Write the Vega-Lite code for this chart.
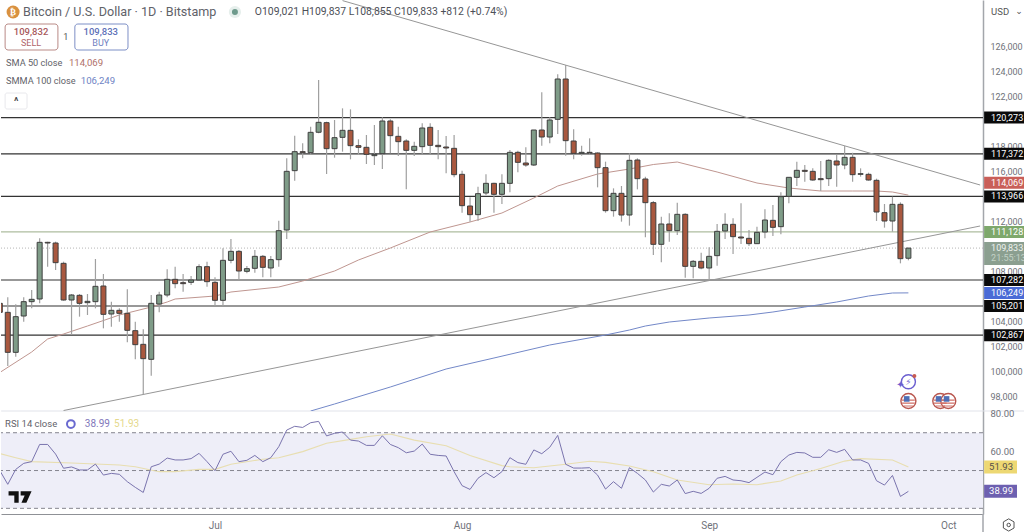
{"$schema":"https://vega.github.io/schema/vega-lite/v6.json","padding":0,"spacing":0,"bounds":"flush","background":"#ffffff","config":{"view":{"stroke":null},"font":"Roboto","text":{"font":"Roboto"},"concat":{"spacing":0}},
"datasets":{
"levels":[{"price":120273},{"price":117372},{"price":113966},{"price":107282},{"price":105201},{"price":102867}],
"tags":[{"label":"120,273","price":120273,"kind":"level"},{"label":"117,372","price":117372,"kind":"level"},{"label":"114,069","price":115064,"kind":"sma"},{"label":"113,966","price":113966,"kind":"level"},{"label":"111,128","price":111128,"kind":"support"},{"label":"107,282","price":107282,"kind":"level"},{"label":"106,249","price":106249,"kind":"smma"},{"label":"105,201","price":105201,"kind":"level"},{"label":"102,867","price":102867,"kind":"level"}],
"trend":[{"d":"2025-07-17","v":129632,"name":"upper"},{"d":"2025-10-05","v":114880,"name":"upper"},{"d":"2025-06-12","v":96840,"name":"lower"},{"d":"2025-10-05","v":111600,"name":"lower"}],
"sma":[{"d":"2025-06-04","v":99880},{"d":"2025-06-08","v":101520},{"d":"2025-06-10","v":102560},{"d":"2025-06-12","v":102960},{"d":"2025-06-15","v":103600},{"d":"2025-06-19","v":104480},{"d":"2025-06-23","v":105120},{"d":"2025-06-25","v":105520},{"d":"2025-06-26","v":105760},{"d":"2025-07-01","v":106000},{"d":"2025-07-03","v":106320},{"d":"2025-07-09","v":106720},{"d":"2025-07-12","v":107200},{"d":"2025-07-16","v":108000},{"d":"2025-07-19","v":108880},{"d":"2025-07-23","v":109840},{"d":"2025-07-28","v":111120},{"d":"2025-08-02","v":111920},{"d":"2025-08-06","v":112640},{"d":"2025-08-10","v":113840},{"d":"2025-08-13","v":114800},{"d":"2025-08-18","v":115760},{"d":"2025-08-22","v":116160},{"d":"2025-08-25","v":116520},{"d":"2025-08-28","v":116720},{"d":"2025-09-02","v":115920},{"d":"2025-09-07","v":115040},{"d":"2025-09-11","v":114640},{"d":"2025-09-15","v":114400},{"d":"2025-09-19","v":114400},{"d":"2025-09-22","v":114400},{"d":"2025-09-24","v":114320},{"d":"2025-09-26","v":114069}],
"smma":[{"d":"2025-07-13","v":96800},{"d":"2025-07-16","v":97360},{"d":"2025-07-23","v":98720},{"d":"2025-07-30","v":100160},{"d":"2025-08-05","v":101040},{"d":"2025-08-12","v":102080},{"d":"2025-08-19","v":102880},{"d":"2025-08-22","v":103280},{"d":"2025-08-24","v":103600},{"d":"2025-08-27","v":103920},{"d":"2025-09-01","v":104240},{"d":"2025-09-06","v":104480},{"d":"2025-09-09","v":104720},{"d":"2025-09-13","v":105120},{"d":"2025-09-17","v":105520},{"d":"2025-09-21","v":106000},{"d":"2025-09-24","v":106240},{"d":"2025-09-26","v":106249}],
"events":[{"d":"2025-09-26"},{"d":"2025-09-30"},{"d":"2025-10-01"}],
"candles":[
{"d":"2025-06-04","o":105413,"h":105947,"l":104213,"c":104693},
{"d":"2025-06-05","o":104693,"h":105893,"l":100400,"c":101493},
{"d":"2025-06-06","o":101493,"h":105333,"l":101147,"c":104347},
{"d":"2025-06-07","o":104400,"h":105893,"l":103947,"c":105547},
{"d":"2025-06-08","o":105547,"h":106480,"l":105013,"c":105733},
{"d":"2025-06-09","o":105760,"h":110613,"l":105413,"c":110293},
{"d":"2025-06-10","o":110293,"h":110347,"l":108347,"c":110240},
{"d":"2025-06-11","o":110240,"h":110347,"l":108080,"c":108667},
{"d":"2025-06-12","o":108613,"h":108747,"l":105627,"c":105680},
{"d":"2025-06-13","o":105680,"h":106160,"l":102880,"c":106080},
{"d":"2025-06-14","o":106053,"h":106160,"l":104347,"c":105413},
{"d":"2025-06-15","o":105467,"h":106160,"l":104480,"c":105573},
{"d":"2025-06-16","o":105547,"h":108960,"l":105013,"c":106773},
{"d":"2025-06-17","o":106800,"h":107760,"l":103413,"c":104533},
{"d":"2025-06-18","o":104560,"h":105547,"l":103547,"c":104853},
{"d":"2025-06-19","o":104853,"h":105013,"l":103947,"c":104613},
{"d":"2025-06-20","o":104613,"h":106533,"l":102293,"c":103253},
{"d":"2025-06-21","o":103227,"h":103947,"l":100933,"c":102107},
{"d":"2025-06-22","o":102133,"h":103333,"l":98160,"c":100987},
{"d":"2025-06-23","o":100933,"h":106080,"l":99627,"c":105413},
{"d":"2025-06-24","o":105360,"h":106347,"l":104693,"c":106080},
{"d":"2025-06-25","o":106080,"h":108133,"l":105893,"c":107333},
{"d":"2025-06-26","o":107333,"h":108347,"l":106613,"c":106987},
{"d":"2025-06-27","o":107067,"h":107760,"l":106347,"c":106987},
{"d":"2025-06-28","o":107093,"h":107600,"l":106880,"c":107280},
{"d":"2025-06-29","o":107280,"h":108533,"l":107227,"c":108347},
{"d":"2025-06-30","o":108347,"h":108747,"l":106747,"c":107147},
{"d":"2025-07-01","o":107093,"h":107493,"l":105200,"c":105653},
{"d":"2025-07-02","o":105653,"h":109813,"l":105200,"c":108853},
{"d":"2025-07-03","o":108853,"h":110560,"l":108613,"c":109573},
{"d":"2025-07-04","o":109573,"h":109680,"l":107280,"c":108000},
{"d":"2025-07-05","o":107973,"h":108400,"l":107813,"c":108187},
{"d":"2025-07-06","o":108213,"h":109680,"l":107867,"c":109173},
{"d":"2025-07-07","o":109173,"h":109280,"l":107493,"c":108293},
{"d":"2025-07-08","o":108240,"h":109200,"l":107493,"c":108907},
{"d":"2025-07-09","o":108907,"h":112027,"l":108347,"c":111227},
{"d":"2025-07-10","o":111280,"h":117013,"l":110560,"c":115973},
{"d":"2025-07-11","o":116027,"h":118827,"l":115227,"c":117547},
{"d":"2025-07-12","o":117547,"h":118213,"l":117013,"c":117467},
{"d":"2025-07-13","o":117467,"h":119547,"l":117280,"c":119093},
{"d":"2025-07-14","o":119100,"h":123280,"l":119013,"c":119893},
{"d":"2025-07-15","o":119867,"h":119947,"l":115760,"c":117787},
{"d":"2025-07-16","o":117787,"h":120080,"l":117067,"c":118667},
{"d":"2025-07-17","o":118693,"h":121013,"l":117547,"c":119253},
{"d":"2025-07-18","o":119253,"h":120933,"l":116933,"c":118027},
{"d":"2025-07-19","o":118027,"h":118533,"l":117280,"c":117893},
{"d":"2025-07-20","o":117893,"h":118880,"l":116560,"c":117333},
{"d":"2025-07-21","o":117227,"h":119680,"l":116480,"c":117333},
{"d":"2025-07-22","o":117387,"h":120293,"l":116160,"c":120000},
{"d":"2025-07-23","o":120000,"h":120133,"l":117413,"c":118827},
{"d":"2025-07-24","o":118773,"h":119547,"l":117200,"c":118347},
{"d":"2025-07-25","o":118400,"h":118533,"l":114533,"c":117653},
{"d":"2025-07-26","o":117653,"h":118347,"l":117200,"c":117973},
{"d":"2025-07-27","o":117947,"h":119813,"l":117360,"c":119440},
{"d":"2025-07-28","o":119493,"h":119813,"l":117360,"c":118053},
{"d":"2025-07-29","o":118053,"h":119280,"l":116933,"c":117947},
{"d":"2025-07-30","o":117920,"h":118800,"l":115813,"c":117840},
{"d":"2025-07-31","o":117813,"h":118880,"l":115493,"c":115707},
{"d":"2025-08-01","o":115733,"h":116027,"l":112667,"c":113227},
{"d":"2025-08-02","o":113200,"h":113893,"l":111947,"c":112507},
{"d":"2025-08-03","o":112507,"h":114747,"l":112000,"c":114187},
{"d":"2025-08-04","o":114240,"h":115733,"l":114080,"c":115013},
{"d":"2025-08-05","o":115013,"h":115067,"l":112667,"c":114133},
{"d":"2025-08-06","o":114133,"h":115733,"l":113360,"c":115013},
{"d":"2025-08-07","o":115013,"h":117680,"l":114293,"c":117493},
{"d":"2025-08-08","o":117493,"h":117627,"l":115893,"c":116693},
{"d":"2025-08-09","o":116640,"h":117893,"l":116347,"c":116480},
{"d":"2025-08-10","o":116480,"h":119280,"l":116400,"c":119280},
{"d":"2025-08-11","o":119280,"h":122293,"l":118027,"c":118720},
{"d":"2025-08-12","o":118720,"h":120293,"l":118213,"c":120080},
{"d":"2025-08-13","o":120133,"h":123733,"l":118960,"c":123360},
{"d":"2025-08-14","o":123360,"h":124480,"l":117227,"c":118427},
{"d":"2025-08-15","o":118400,"h":119333,"l":116933,"c":117413},
{"d":"2025-08-16","o":117413,"h":118027,"l":117227,"c":117493},
{"d":"2025-08-17","o":117493,"h":118613,"l":117280,"c":117450},
{"d":"2025-08-18","o":117440,"h":117493,"l":114693,"c":116267},
{"d":"2025-08-19","o":116267,"h":116747,"l":112667,"c":112827},
{"d":"2025-08-20","o":112827,"h":114613,"l":112347,"c":114213},
{"d":"2025-08-21","o":114213,"h":114800,"l":111947,"c":112480},
{"d":"2025-08-22","o":112480,"h":117413,"l":111627,"c":116853},
{"d":"2025-08-23","o":116880,"h":117013,"l":114533,"c":115387},
{"d":"2025-08-24","o":115360,"h":115547,"l":110693,"c":113467},
{"d":"2025-08-25","o":113467,"h":113600,"l":109280,"c":110133},
{"d":"2025-08-26","o":110133,"h":112347,"l":108693,"c":111760},
{"d":"2025-08-27","o":111760,"h":112613,"l":110347,"c":111227},
{"d":"2025-08-28","o":111227,"h":113467,"l":110880,"c":112533},
{"d":"2025-08-29","o":112533,"h":112613,"l":107467,"c":108373},
{"d":"2025-08-30","o":108373,"h":108880,"l":107413,"c":108773},
{"d":"2025-08-31","o":108773,"h":109467,"l":108133,"c":108240},
{"d":"2025-09-01","o":108240,"h":109893,"l":107280,"c":109173},
{"d":"2025-09-02","o":109227,"h":111760,"l":108427,"c":111173},
{"d":"2025-09-03","o":111200,"h":112613,"l":110560,"c":111733},
{"d":"2025-09-04","o":111733,"h":112213,"l":109360,"c":110747},
{"d":"2025-09-05","o":110720,"h":113413,"l":110160,"c":110640},
{"d":"2025-09-06","o":110613,"h":111280,"l":110000,"c":110187},
{"d":"2025-09-07","o":110187,"h":111547,"l":110160,"c":111093},
{"d":"2025-09-08","o":111120,"h":112933,"l":110613,"c":112080},
{"d":"2025-09-09","o":112053,"h":113280,"l":110800,"c":111493},
{"d":"2025-09-10","o":111547,"h":114293,"l":110933,"c":113947},
{"d":"2025-09-11","o":113973,"h":115493,"l":113413,"c":115493},
{"d":"2025-09-12","o":115493,"h":116747,"l":114800,"c":116053},
{"d":"2025-09-13","o":116053,"h":116480,"l":115147,"c":115973},
{"d":"2025-09-14","o":115973,"h":116213,"l":115227,"c":115280},
{"d":"2025-09-15","o":115387,"h":116800,"l":114400,"c":115307},
{"d":"2025-09-16","o":115387,"h":116933,"l":114800,"c":116853},
{"d":"2025-09-17","o":116800,"h":117280,"l":114747,"c":116480},
{"d":"2025-09-18","o":116480,"h":118000,"l":116133,"c":117093},
{"d":"2025-09-19","o":117093,"h":117467,"l":115147,"c":115707},
{"d":"2025-09-20","o":115733,"h":116213,"l":115547,"c":115787},
{"d":"2025-09-21","o":115733,"h":115867,"l":115227,"c":115280},
{"d":"2025-09-22","o":115253,"h":115387,"l":112000,"c":112720},
{"d":"2025-09-23","o":112667,"h":113360,"l":111467,"c":112000},
{"d":"2025-09-24","o":112000,"h":113947,"l":111147,"c":113333},
{"d":"2025-09-25","o":113333,"h":113493,"l":108613,"c":108987},
{"d":"2025-09-26","o":109021,"h":109837,"l":108855,"c":109833}],
"rsi":[{"d":"2025-06-04","v":50},{"d":"2025-06-05","v":42.7},{"d":"2025-06-06","v":50.6},{"d":"2025-06-07","v":53.8},{"d":"2025-06-08","v":54.7},{"d":"2025-06-09","v":63.8},{"d":"2025-06-10","v":63.8},{"d":"2025-06-11","v":58.7},{"d":"2025-06-12","v":51.2},{"d":"2025-06-13","v":51.9},{"d":"2025-06-14","v":50.3},{"d":"2025-06-15","v":50.3},{"d":"2025-06-16","v":53.4},{"d":"2025-06-17","v":47.6},{"d":"2025-06-18","v":48.5},{"d":"2025-06-19","v":48},{"d":"2025-06-20","v":44.1},{"d":"2025-06-21","v":41.1},{"d":"2025-06-22","v":38.4},{"d":"2025-06-23","v":52},{"d":"2025-06-24","v":53.4},{"d":"2025-06-25","v":56.6},{"d":"2025-06-26","v":55.6},{"d":"2025-06-27","v":55.6},{"d":"2025-06-28","v":56.3},{"d":"2025-06-29","v":59.1},{"d":"2025-06-30","v":54.7},{"d":"2025-07-01","v":49.9},{"d":"2025-07-02","v":58.6},{"d":"2025-07-03","v":60.2},{"d":"2025-07-04","v":54.7},{"d":"2025-07-05","v":55.4},{"d":"2025-07-06","v":58},{"d":"2025-07-07","v":54.7},{"d":"2025-07-08","v":56.8},{"d":"2025-07-09","v":62.6},{"d":"2025-07-10","v":71.4},{"d":"2025-07-11","v":73.4},{"d":"2025-07-12","v":72.8},{"d":"2025-07-13","v":75.3},{"d":"2025-07-14","v":76},{"d":"2025-07-15","v":68.3},{"d":"2025-07-16","v":69.7},{"d":"2025-07-17","v":70.4},{"d":"2025-07-18","v":66.1},{"d":"2025-07-19","v":65.6},{"d":"2025-07-20","v":63.3},{"d":"2025-07-21","v":63.3},{"d":"2025-07-22","v":68.4},{"d":"2025-07-23","v":63.8},{"d":"2025-07-24","v":62.1},{"d":"2025-07-25","v":59.4},{"d":"2025-07-26","v":60.3},{"d":"2025-07-27","v":64},{"d":"2025-07-28","v":58.6},{"d":"2025-07-29","v":58},{"d":"2025-07-30","v":57.7},{"d":"2025-07-31","v":49.4},{"d":"2025-08-01","v":42},{"d":"2025-08-02","v":40},{"d":"2025-08-03","v":45.9},{"d":"2025-08-04","v":48.9},{"d":"2025-08-05","v":46.2},{"d":"2025-08-06","v":49.4},{"d":"2025-08-07","v":56.8},{"d":"2025-08-08","v":54.2},{"d":"2025-08-09","v":53.3},{"d":"2025-08-10","v":60.9},{"d":"2025-08-11","v":58.9},{"d":"2025-08-12","v":62.3},{"d":"2025-08-13","v":68.6},{"d":"2025-08-14","v":53.3},{"d":"2025-08-15","v":51.3},{"d":"2025-08-16","v":51.3},{"d":"2025-08-17","v":51.5},{"d":"2025-08-18","v":47.6},{"d":"2025-08-19","v":40.2},{"d":"2025-08-20","v":44.1},{"d":"2025-08-21","v":40.6},{"d":"2025-08-22","v":51.5},{"d":"2025-08-23","v":48.5},{"d":"2025-08-24","v":45},{"d":"2025-08-25","v":38.6},{"d":"2025-08-26","v":42.7},{"d":"2025-08-27","v":41.8},{"d":"2025-08-28","v":45},{"d":"2025-08-29","v":37.8},{"d":"2025-08-30","v":39},{"d":"2025-08-31","v":37.9},{"d":"2025-09-01","v":40.6},{"d":"2025-09-02","v":45.9},{"d":"2025-09-03","v":46.9},{"d":"2025-09-04","v":45},{"d":"2025-09-05","v":44.6},{"d":"2025-09-06","v":43.6},{"d":"2025-09-07","v":46.4},{"d":"2025-09-08","v":49.2},{"d":"2025-09-09","v":47.8},{"d":"2025-09-10","v":54.7},{"d":"2025-09-11","v":58.2},{"d":"2025-09-12","v":59.6},{"d":"2025-09-13","v":59.3},{"d":"2025-09-14","v":57},{"d":"2025-09-15","v":57},{"d":"2025-09-16","v":61},{"d":"2025-09-17","v":59.6},{"d":"2025-09-18","v":61.2},{"d":"2025-09-19","v":55.6},{"d":"2025-09-20","v":55.6},{"d":"2025-09-21","v":53.8},{"d":"2025-09-22","v":44.6},{"d":"2025-09-23","v":42.3},{"d":"2025-09-24","v":47.4},{"d":"2025-09-25","v":36.3},{"d":"2025-09-26","v":38.99}],
"rsima":[{"d":"2025-06-04","v":59},{"d":"2025-06-06","v":56.8},{"d":"2025-06-08","v":54.7},{"d":"2025-06-13","v":54},{"d":"2025-06-19","v":52.9},{"d":"2025-06-21","v":52},{"d":"2025-06-24","v":49.4},{"d":"2025-06-26","v":49.4},{"d":"2025-06-29","v":50.6},{"d":"2025-07-01","v":50.6},{"d":"2025-07-03","v":53.3},{"d":"2025-07-07","v":56},{"d":"2025-07-09","v":56.8},{"d":"2025-07-12","v":60},{"d":"2025-07-15","v":64.4},{"d":"2025-07-18","v":66.5},{"d":"2025-07-20","v":67.9},{"d":"2025-07-23","v":69.3},{"d":"2025-07-26","v":66.1},{"d":"2025-07-30","v":63.1},{"d":"2025-08-02","v":57.9},{"d":"2025-08-06","v":52.6},{"d":"2025-08-07","v":52},{"d":"2025-08-10","v":51.5},{"d":"2025-08-14","v":53.3},{"d":"2025-08-17","v":54.9},{"d":"2025-08-19","v":54.3},{"d":"2025-08-22","v":52.4},{"d":"2025-08-25","v":49.4},{"d":"2025-08-28","v":45},{"d":"2025-09-01","v":42.5},{"d":"2025-09-04","v":42.9},{"d":"2025-09-07","v":42.5},{"d":"2025-09-10","v":44.5},{"d":"2025-09-12","v":47.6},{"d":"2025-09-15","v":51.1},{"d":"2025-09-18","v":55},{"d":"2025-09-20","v":56.3},{"d":"2025-09-24","v":55.6},{"d":"2025-09-26","v":51.93}],
"rsitags":[{"label":"51.93","v":51.93,"kind":"ma"},{"label":"38.99","v":38.99,"kind":"rsi"}]
},
"vconcat":[
{"width":982,"height":411,"data":{"values":[{}]},"layer":[
{"data":{"name":"levels"},"mark":{"type":"rule","color":"#333333","strokeWidth":1.2},"encoding":{"y":{"field":"price","type":"quantitative","scale":{"domain":[96800,129680],"nice":false,"zero":false},"axis":{"orient":"right","values":[126000,124000,122000,118000,116000,112000,108000,104000,102000,100000,98000],"labelExpr":"format(datum.value,',')","labelPadding":7,"ticks":false,"grid":false,"domainColor":"#a3a6ab","domainWidth":1.5,"labelColor":"#6f727a","labelFontSize":9,"labelFont":"Roboto","title":null}}}},
{"mark":{"type":"rule","color":"#aebd9f","strokeWidth":1.3},"encoding":{"y":{"datum":111128,"type":"quantitative"}}},
{"mark":{"type":"rule","color":"#b5b5b5","strokeWidth":1,"strokeDash":[1,2]},"encoding":{"y":{"datum":109833,"type":"quantitative"}}},
{"mark":{"type":"rule","color":"#e1e3ea","strokeWidth":1},"encoding":{"y":{"datum":96800,"type":"quantitative"},"x":{"datum":{"year":2025,"month":"june","date":4,"hours":4,"utc":true},"type":"temporal","scale":{"type":"utc","padding":0,"domain":[{"year":2025,"month":"june","date":4,"hours":3,"minutes":36,"utc":true},{"year":2025,"month":"october","date":5,"hours":8,"minutes":38,"utc":true}],"nice":false},"axis":null},"x2":{"datum":{"year":2025,"month":"june","date":4,"hours":3087,"utc":true}}}},
{"data":{"name":"trend"},"mark":{"type":"line","color":"#969696","strokeWidth":1,"clip":true},"encoding":{"x":{"field":"d","type":"temporal"},"y":{"field":"v","type":"quantitative"},"detail":{"field":"name"}}},
{"data":{"name":"sma"},"mark":{"type":"line","color":"#bf9690","strokeWidth":1,"clip":true},"encoding":{"x":{"field":"d","type":"temporal"},"y":{"field":"v","type":"quantitative"}}},
{"data":{"name":"smma"},"mark":{"type":"line","color":"#7388c8","strokeWidth":1,"clip":true},"encoding":{"x":{"field":"d","type":"temporal"},"y":{"field":"v","type":"quantitative"}}},
{"data":{"name":"candles"},"mark":{"type":"rule","color":"#a0a0a0","strokeWidth":1.2,"clip":true},"encoding":{"x":{"field":"d","type":"temporal"},"y":{"field":"l","type":"quantitative"},"y2":{"field":"h"}}},
{"data":{"name":"candles"},"mark":{"type":"bar","width":5,"stroke":"#3f3f3f","strokeWidth":1,"clip":true},"encoding":{"x":{"field":"d","type":"temporal"},"y":{"field":"o","type":"quantitative"},"y2":{"field":"c"},"fill":{"condition":{"test":"datum.c>=datum.o","value":"#7f9c88"},"value":"#a9583f"}}},
{"data":{"name":"tags"},"mark":{"type":"rect","height":12},"encoding":{"x":{"datum":{"year":2025,"month":"june","date":4,"hours":2964,"utc":true},"type":"temporal"},"x2":{"datum":{"year":2025,"month":"june","date":4,"hours":3087,"utc":true}},"y":{"field":"price","type":"quantitative"},"color":{"field":"kind","type":"nominal","legend":null,"scale":{"domain":["level","sma","support","smma"],"range":["#0a0a0a","#c95f59","#7ea86c","#4a6bd6"]}}}},
{"mark":{"type":"rect","height":23,"color":"#8b9f90"},"encoding":{"x":{"datum":{"year":2025,"month":"june","date":4,"hours":2964,"utc":true},"type":"temporal"},"x2":{"datum":{"year":2025,"month":"june","date":4,"hours":3087,"utc":true}},"y":{"datum":109392,"type":"quantitative"}}},
{"data":{"name":"tags"},"mark":{"type":"text","align":"left","fontSize":9,"color":"#ffffff"},"encoding":{"x":{"datum":{"year":2025,"month":"june","date":4,"hours":2985,"utc":true},"type":"temporal"},"y":{"field":"price","type":"quantitative"},"text":{"field":"label"}}},
{"mark":{"type":"text","align":"left","fontSize":9,"color":"#eef2ee","text":"109,833"},"encoding":{"x":{"datum":{"year":2025,"month":"june","date":4,"hours":2985,"utc":true},"type":"temporal"},"y":{"datum":109880,"type":"quantitative"}}},
{"mark":{"type":"text","align":"left","fontSize":9,"color":"#c3d2c6","text":"21:55:13"},"encoding":{"x":{"datum":{"year":2025,"month":"june","date":4,"hours":2985,"utc":true},"type":"temporal"},"y":{"datum":109040,"type":"quantitative"}}},
{"mark":{"type":"text","align":"left","fontSize":9.5,"color":"#555555","text":"USD"},"encoding":{"x":{"datum":{"year":2025,"month":"june","date":4,"hours":2985,"utc":true},"type":"temporal"},"y":{"datum":128720,"type":"quantitative"}}},
{"mark":{"type":"text","align":"center","fontSize":9,"color":"#555555","font":"DejaVu Sans","text":"⌄"},"encoding":{"x":{"datum":{"year":2025,"month":"june","date":4,"hours":3069,"utc":true},"type":"temporal"},"y":{"datum":128800,"type":"quantitative"}}},
{"mark":{"type":"point","filled":true,"size":169,"color":"#d9913f","opacity":1},"encoding":{"x":{"datum":{"year":2025,"month":"june","date":4,"hours":40,"utc":true},"type":"temporal"},"y":{"datum":128720,"type":"quantitative"}}},
{"mark":{"type":"text","align":"center","fontSize":9,"fontWeight":"bold","color":"#ffffff","text":"₿"},"encoding":{"x":{"datum":{"year":2025,"month":"june","date":4,"hours":40,"utc":true},"type":"temporal"},"y":{"datum":128720,"type":"quantitative"}}},
{"mark":{"type":"text","align":"left","fontSize":12.6,"color":"#5f6269","text":"Bitcoin / U.S. Dollar · 1D · Bitstamp"},"encoding":{"x":{"datum":{"year":2025,"month":"june","date":4,"hours":70,"utc":true},"type":"temporal"},"y":{"datum":128720,"type":"quantitative"}}},
{"mark":{"type":"point","filled":true,"size":150,"color":"#e6efec","opacity":1},"encoding":{"x":{"datum":{"year":2025,"month":"june","date":4,"hours":708,"utc":true},"type":"temporal"},"y":{"datum":128720,"type":"quantitative"}}},
{"mark":{"type":"point","filled":true,"size":36,"color":"#6e9a8c","opacity":1},"encoding":{"x":{"datum":{"year":2025,"month":"june","date":4,"hours":708,"utc":true},"type":"temporal"},"y":{"datum":128720,"type":"quantitative"}}},
{"mark":{"type":"text","align":"left","fontSize":10.4,"color":"#4d5058","text":"O109,021  H109,837  L108,855  C109,833  +812 (+0.74%)"},"encoding":{"x":{"datum":{"year":2025,"month":"june","date":4,"hours":768,"utc":true},"type":"temporal"},"y":{"datum":128720,"type":"quantitative"}}},
{"mark":{"type":"rect","fill":"#ffffff","stroke":"#b98a86","strokeWidth":1,"cornerRadius":3},"encoding":{"x":{"datum":{"year":2025,"month":"june","date":4,"hours":16,"utc":true},"type":"temporal"},"x2":{"datum":{"year":2025,"month":"june","date":4,"hours":175,"utc":true}},"y":{"datum":127760,"type":"quantitative"},"y2":{"datum":125680}}},
{"mark":{"type":"rect","fill":"#ffffff","stroke":"#7d8fc6","strokeWidth":1,"cornerRadius":3},"encoding":{"x":{"datum":{"year":2025,"month":"june","date":4,"hours":226,"utc":true},"type":"temporal"},"x2":{"datum":{"year":2025,"month":"june","date":4,"hours":386,"utc":true}},"y":{"datum":127760,"type":"quantitative"},"y2":{"datum":125680}}},
{"mark":{"type":"text","align":"center","fontSize":9.5,"fontWeight":500,"color":"#a8595c","text":"109,832"},"encoding":{"x":{"datum":{"year":2025,"month":"june","date":4,"hours":94,"utc":true},"type":"temporal"},"y":{"datum":127120,"type":"quantitative"}}},
{"mark":{"type":"text","align":"center","fontSize":9,"color":"#b0666a","text":"SELL"},"encoding":{"x":{"datum":{"year":2025,"month":"june","date":4,"hours":94,"utc":true},"type":"temporal"},"y":{"datum":126240,"type":"quantitative"}}},
{"mark":{"type":"text","align":"center","fontSize":9,"color":"#555555","text":"1"},"encoding":{"x":{"datum":{"year":2025,"month":"june","date":4,"hours":199,"utc":true},"type":"temporal"},"y":{"datum":126720,"type":"quantitative"}}},
{"mark":{"type":"text","align":"center","fontSize":9.5,"fontWeight":500,"color":"#5d70b8","text":"109,833"},"encoding":{"x":{"datum":{"year":2025,"month":"june","date":4,"hours":304,"utc":true},"type":"temporal"},"y":{"datum":127120,"type":"quantitative"}}},
{"mark":{"type":"text","align":"center","fontSize":9,"color":"#6f80c0","text":"BUY"},"encoding":{"x":{"datum":{"year":2025,"month":"june","date":4,"hours":304,"utc":true},"type":"temporal"},"y":{"datum":126240,"type":"quantitative"}}},
{"mark":{"type":"text","align":"left","fontSize":9.2,"color":"#5f6269","text":"SMA 50 close"},"encoding":{"x":{"datum":{"year":2025,"month":"june","date":4,"hours":19,"utc":true},"type":"temporal"},"y":{"datum":124640,"type":"quantitative"}}},
{"mark":{"type":"text","align":"left","fontSize":9.6,"color":"#b0706a","text":"114,069"},"encoding":{"x":{"datum":{"year":2025,"month":"june","date":4,"hours":208,"utc":true},"type":"temporal"},"y":{"datum":124640,"type":"quantitative"}}},
{"mark":{"type":"text","align":"left","fontSize":9.2,"color":"#5f6269","text":"SMMA 100 close"},"encoding":{"x":{"datum":{"year":2025,"month":"june","date":4,"hours":19,"utc":true},"type":"temporal"},"y":{"datum":123200,"type":"quantitative"}}},
{"mark":{"type":"text","align":"left","fontSize":9.6,"color":"#6f83c4","text":"106,249"},"encoding":{"x":{"datum":{"year":2025,"month":"june","date":4,"hours":244,"utc":true},"type":"temporal"},"y":{"datum":123200,"type":"quantitative"}}},
{"mark":{"type":"rect","fill":"#ffffff","stroke":"#e8e8ec","strokeWidth":1,"cornerRadius":2},"encoding":{"x":{"datum":{"year":2025,"month":"june","date":4,"hours":16,"utc":true},"type":"temporal"},"x2":{"datum":{"year":2025,"month":"june","date":4,"hours":82,"utc":true}},"y":{"datum":122240,"type":"quantitative"},"y2":{"datum":120960}}},
{"mark":{"type":"text","align":"center","fontSize":10,"fontWeight":"bold","color":"#444444","text":"^"},"encoding":{"x":{"datum":{"year":2025,"month":"june","date":4,"hours":49,"utc":true},"type":"temporal"},"y":{"datum":121500,"type":"quantitative"}}},
{"data":{"name":"events"},"mark":{"type":"point","filled":true,"size":225,"color":"#ffffff","stroke":"#b9564e","strokeWidth":1.4,"opacity":1},"encoding":{"x":{"field":"d","type":"temporal"},"y":{"datum":97600,"type":"quantitative"}}},
{"data":{"name":"events"},"mark":{"type":"point","filled":true,"size":225,"color":"#cf6f66","opacity":1,"shape":"M-.85 -.2H.85V-.05H-.85ZM-.85 .2H.85V.35H-.85ZM-.6 .6H.6V.72H-.6Z"},"encoding":{"x":{"field":"d","type":"temporal"},"y":{"datum":97600,"type":"quantitative"}}},
{"data":{"name":"events"},"mark":{"type":"point","filled":true,"size":225,"color":"#4f6fb5","opacity":1,"shape":"M-.6 -.65H.15V.1H-.6Z"},"encoding":{"x":{"field":"d","type":"temporal"},"y":{"datum":97600,"type":"quantitative"}}},
{"mark":{"type":"point","filled":false,"size":196,"color":"#6b5fd0","strokeWidth":1.4,"opacity":1},"encoding":{"x":{"datum":{"year":2025,"month":"september","date":26,"utc":true},"type":"temporal"},"y":{"datum":99140,"type":"quantitative"}}},
{"mark":{"type":"text","align":"center","fontSize":9,"color":"#6b5fd0","font":"DejaVu Sans","text":"⚡"},"encoding":{"x":{"datum":{"year":2025,"month":"september","date":26,"utc":true},"type":"temporal"},"y":{"datum":99140,"type":"quantitative"}}},
{"mark":{"type":"text","align":"center","fontSize":10,"color":"#6b5fd0","font":"DejaVu Sans","text":"✦"},"encoding":{"x":{"datum":{"year":2025,"month":"september","date":25,"utc":true},"type":"temporal"},"y":{"datum":98900,"type":"quantitative"}}},
{"mark":{"type":"point","filled":true,"size":16,"color":"#c85a50","opacity":1},"encoding":{"x":{"datum":{"year":2025,"month":"september","date":26,"hours":18,"utc":true},"type":"temporal"},"y":{"datum":99600,"type":"quantitative"}}}
]},
{"width":982,"height":103,"data":{"values":[{}]},"layer":[
{"mark":{"type":"rect","color":"#eeeef8"},"encoding":{"y":{"datum":70,"type":"quantitative","scale":{"domain":[27,81.5],"nice":false,"zero":false},"axis":{"orient":"right","values":[80,60],"labelExpr":"format(datum.value,'.2f')","labelPadding":7,"ticks":false,"grid":false,"domainColor":"#a3a6ab","domainWidth":1.5,"labelColor":"#6f727a","labelFontSize":9.5,"labelFont":"Roboto","title":null}},"y2":{"datum":30}}},
{"data":{"values":[{"v":70},{"v":50},{"v":30}]},"mark":{"type":"rule","color":"#85858f","strokeWidth":1,"strokeDash":[4,3]},"encoding":{"y":{"field":"v","type":"quantitative"}}},
{"data":{"name":"rsima"},"mark":{"type":"line","color":"#e8deb0","strokeWidth":1.1,"clip":true},"encoding":{"x":{"field":"d","type":"temporal","scale":{"type":"utc","domain":[{"year":2025,"month":"june","date":4,"hours":3,"minutes":36,"utc":true},{"year":2025,"month":"october","date":5,"hours":8,"minutes":38,"utc":true}],"nice":false},"axis":{"values":[{"year":2025,"month":"july","date":1,"utc":true},{"year":2025,"month":"august","date":1,"utc":true},{"year":2025,"month":"september","date":1,"utc":true},{"year":2025,"month":"october","date":1,"utc":true}],"labelExpr":"utcFormat(datum.value,'%b')","ticks":false,"grid":false,"labelPadding":6,"labelColor":"#6f727a","labelFontSize":10,"labelFont":"Roboto","domainColor":"#8f9196","domainWidth":1.2,"title":null}},"y":{"field":"v","type":"quantitative"}}},
{"data":{"name":"rsi"},"mark":{"type":"line","color":"#7a74ae","strokeWidth":1,"clip":true},"encoding":{"x":{"field":"d","type":"temporal"},"y":{"field":"v","type":"quantitative"}}},
{"mark":{"type":"rule","color":"#a3a6ab","strokeWidth":1.5},"encoding":{"x":{"datum":{"year":2025,"month":"october","date":5,"hours":8,"minutes":38,"utc":true},"type":"temporal"},"y":{"datum":27,"type":"quantitative"},"y2":{"datum":17.5}}},
{"data":{"name":"rsitags"},"mark":{"type":"rect","height":13},"encoding":{"x":{"datum":{"year":2025,"month":"june","date":4,"hours":2964,"utc":true},"type":"temporal"},"x2":{"datum":{"year":2025,"month":"june","date":4,"hours":3063,"utc":true}},"y":{"field":"v","type":"quantitative"},"color":{"field":"kind","type":"nominal","legend":null,"scale":{"domain":["ma","rsi"],"range":["#edd873","#6d60b0"]}}}},
{"data":{"name":"rsitags"},"mark":{"type":"text","align":"center","fontSize":9.5},"encoding":{"x":{"datum":{"year":2025,"month":"june","date":4,"hours":3015,"utc":true},"type":"temporal"},"y":{"field":"v","type":"quantitative"},"text":{"field":"label"},"fill":{"field":"kind","type":"nominal","legend":null,"scale":{"domain":["ma","rsi"],"range":["#55504a","#ffffff"]}}}},
{"mark":{"type":"text","align":"left","fontSize":9.5,"color":"#5f6269","text":"RSI 14 close"},"encoding":{"x":{"datum":{"year":2025,"month":"june","date":4,"hours":16,"utc":true},"type":"temporal"},"y":{"datum":74.6,"type":"quantitative"}}},
{"mark":{"type":"point","filled":false,"size":60,"color":"#6a6ad0","strokeWidth":2,"opacity":1},"encoding":{"x":{"datum":{"year":2025,"month":"june","date":4,"hours":214,"utc":true},"type":"temporal"},"y":{"datum":74.6,"type":"quantitative"}}},
{"mark":{"type":"text","align":"left","fontSize":10,"color":"#8278bb","text":"38.99"},"encoding":{"x":{"datum":{"year":2025,"month":"june","date":4,"hours":256,"utc":true},"type":"temporal"},"y":{"datum":74.6,"type":"quantitative"}}},
{"mark":{"type":"text","align":"left","fontSize":10,"color":"#e5d98c","text":"51.93"},"encoding":{"x":{"datum":{"year":2025,"month":"june","date":4,"hours":344,"utc":true},"type":"temporal"},"y":{"datum":74.6,"type":"quantitative"}}},
{"mark":{"type":"point","filled":true,"size":529,"color":"#111111","opacity":1,"shape":"M-1 -.5H-.12V.5H-.5V-.12H-1ZM.05 -.5H1L.55 .5H.12L.4 -.12H.05Z"},"encoding":{"x":{"datum":{"year":2025,"month":"june","date":4,"hours":61,"utc":true},"type":"temporal"},"y":{"datum":36,"type":"quantitative"}}},
{"mark":{"type":"point","filled":false,"size":150,"color":"#555555","strokeWidth":1,"opacity":1,"shape":"M0 -1L.87 -.5V.5L0 1L-.87 .5V-.5Z"},"encoding":{"x":{"datum":{"year":2025,"month":"june","date":4,"hours":3038,"utc":true},"type":"temporal"},"y":{"datum":21.2,"type":"quantitative"}}},
{"mark":{"type":"point","filled":false,"size":12,"color":"#555555","strokeWidth":1,"opacity":1},"encoding":{"x":{"datum":{"year":2025,"month":"june","date":4,"hours":3038,"utc":true},"type":"temporal"},"y":{"datum":21.2,"type":"quantitative"}}}
]}
],"resolve":{"scale":{"color":"independent","fill":"independent"}}}
